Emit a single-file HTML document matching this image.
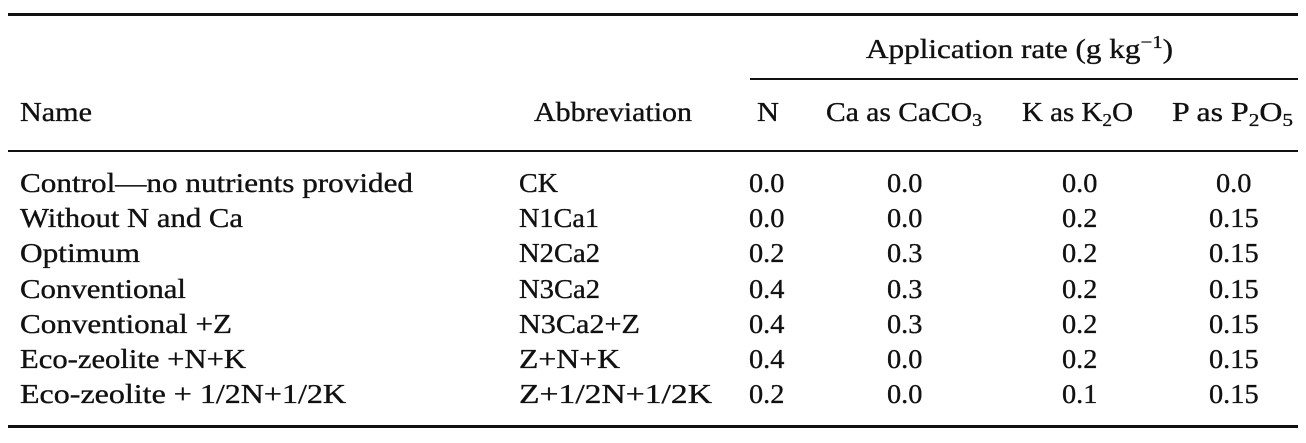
<!DOCTYPE html>
<html><head><meta charset="utf-8"><style>
body{margin:0;background:#fff;width:1306px;height:443px;position:relative;overflow:hidden;font-family:"Liberation Serif",serif;color:#111;}
.t{position:absolute;font-size:27px;line-height:30px;height:30px;white-space:nowrap;transform-origin:0 50%;-webkit-text-stroke:0.35px #111;}
.r{position:absolute;background:#111;}
sub{font-size:18px;vertical-align:-5px;line-height:0}
sup{font-size:18px;vertical-align:10px;line-height:0}
</style></head><body>
<div class="r" style="left:8px;top:13px;width:1290px;height:3px"></div>
<div class="r" style="left:750px;top:78px;width:548px;height:2px"></div>
<div class="r" style="left:8px;top:150px;width:1290px;height:2px"></div>
<div class="r" style="left:8px;top:425px;width:1290px;height:3px"></div>
<div class="t" data-x="866" data-w="307" style="top:34px">Application rate (g kg<sup>−1</sup>)</div>
<div class="t" data-x="20" data-w="72" style="top:97px">Name</div>
<div class="t" data-x="534" data-w="158" style="top:97px">Abbreviation</div>
<div class="t" data-x="757" data-w="22" style="top:97px">N</div>
<div class="t" data-x="826" data-w="156" style="top:97px">Ca as CaCO<sub>3</sub></div>
<div class="t" data-x="1022" data-w="111" style="top:97px">K as K<sub>2</sub>O</div>
<div class="t" data-x="1172" data-w="121" style="top:97px">P as P<sub>2</sub>O<sub>5</sub></div>
<div id="rows"></div>
<script>
const names=["Control—no nutrients provided","Without N and Ca","Optimum","Conventional","Conventional +Z","Eco-zeolite +N+K","Eco-zeolite + 1/2N+1/2K"];
const nameW=[393,223,120,166,212,226,326];
const abbrs=["CK","N1Ca1","N2Ca2","N3Ca2","N3Ca2+Z","Z+N+K","Z+1/2N+1/2K"];
const abbrW=[39,80,81,81,121,101,193];
const nVals=["0.0","0.0","0.2","0.4","0.4","0.4","0.2"];
const caVals=["0.0","0.0","0.3","0.3","0.3","0.0","0.0"];
const kVals=["0.0","0.2","0.2","0.2","0.2","0.2","0.1"];
const pVals=["0.0","0.15","0.15","0.15","0.15","0.15","0.15"];
const rowsEl=document.getElementById('rows');
function add(txt,x,y,w,name,center){
  const d=document.createElement('div');
  d.className='t';
  d.textContent=txt;
  
  
  d.style.top=y+'px';
  if(center){d.dataset.cx=x;}else{d.dataset.x=x;d.dataset.w=w;}
  rowsEl.appendChild(d);
}
for(let i=0;i<names.length;i++){
  const y=168+i*35.2;
  add(names[i],20,y,nameW[i],'treatment-name',false);
  add(abbrs[i],519,y,abbrW[i],'abbreviation',false);
  add(nVals[i],767,y,0,'n-rate',true);
  add(caVals[i],905,y,0,'ca-rate',true);
  add(kVals[i],1080,y,0,'k-rate',true);
  add(pVals[i],1234,y,0,'p-rate',true);
}
document.querySelectorAll('.t').forEach(el=>{
  const w=el.getBoundingClientRect().width;
  if(el.dataset.cx){
    el.style.left=(+el.dataset.cx - w*1.05/2)+'px';
    el.style.transform='scaleX(1.05)';
  }else{
    el.style.left=el.dataset.x+'px';
    el.style.transform='scaleX('+(+el.dataset.w/w)+')';
  }
});
</script>
</body></html>
